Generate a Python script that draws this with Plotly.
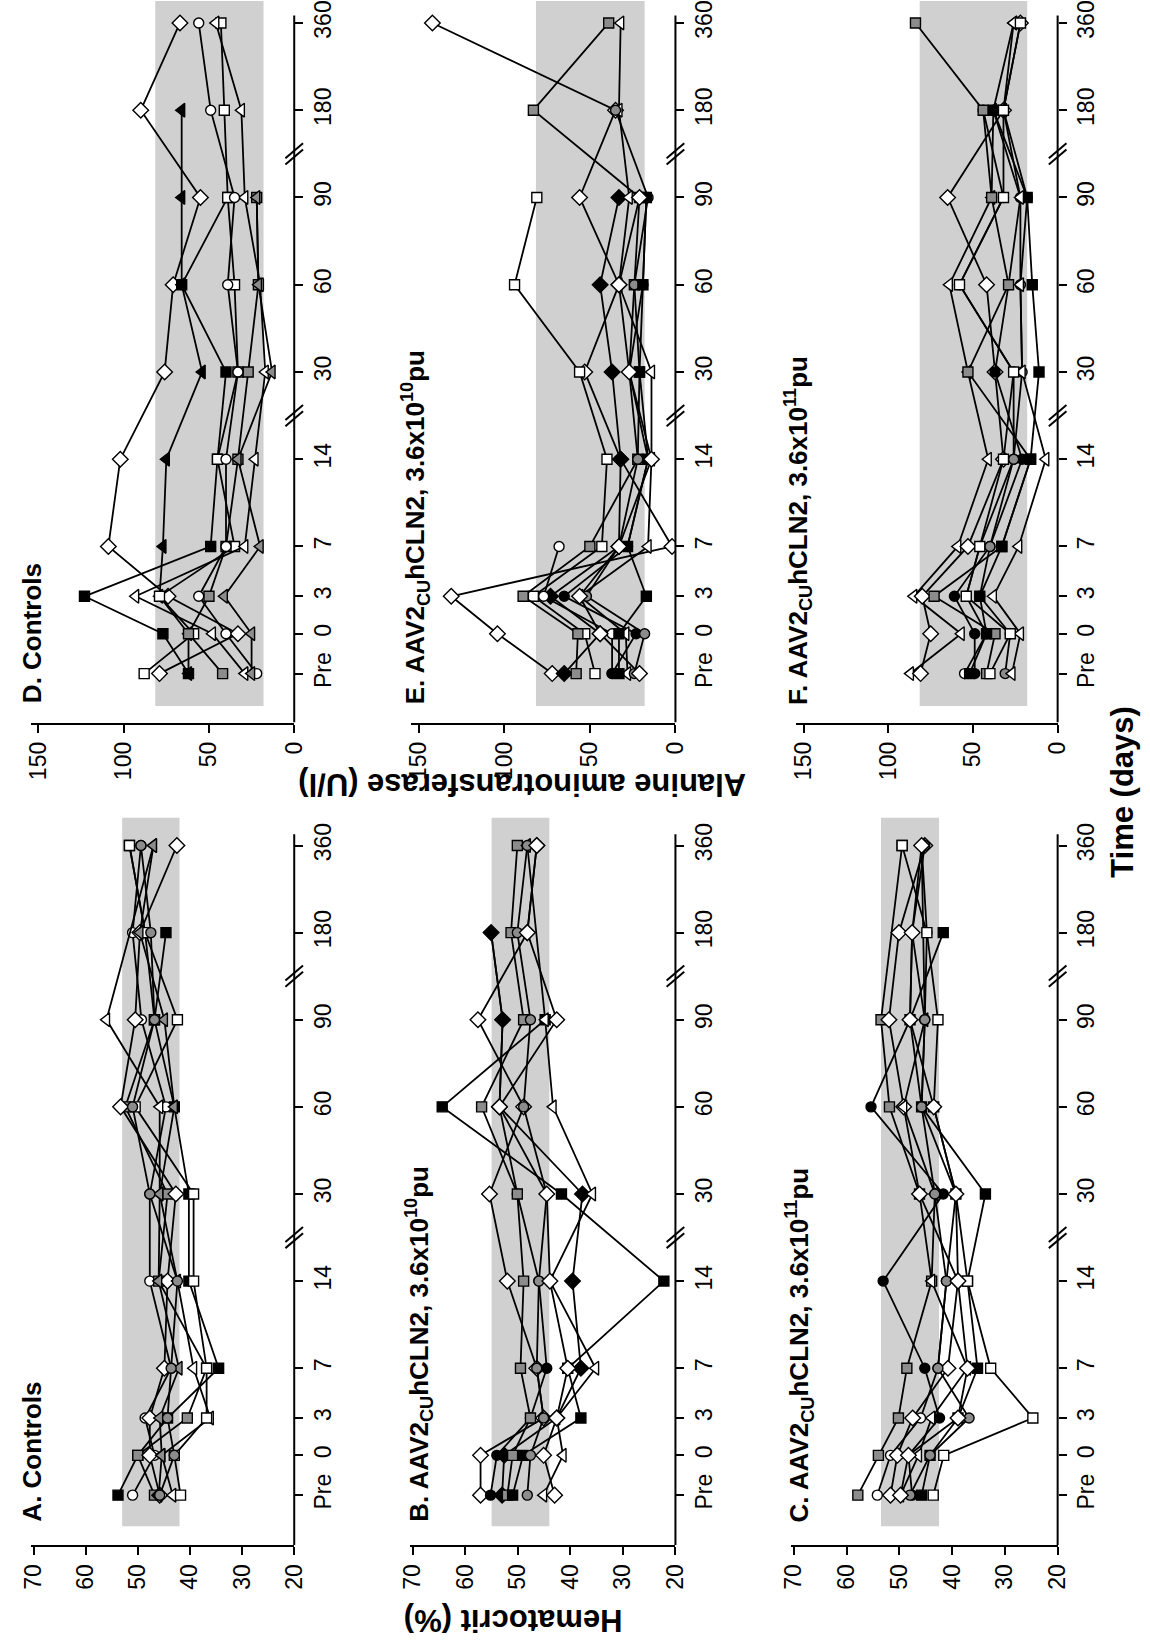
import plotly.graph_objects as go

# ---------------- data ----------------
time_labels = ["Pre", "0", "3", "7", "14", "30", "60", "90", "180", "360"]

# A. Controls - Hematocrit (%)
A_hct = [
    [53.8, 50.0, 44.3, 34.5, 40.2, 40.2, 43.0, 46.8, 44.6, None],
    [51.0, 46.8, 48.6, 43.6, 47.7, 47.7, 44.6, 49.3, 51.0, 49.4],
    [46.8, 50.0, 40.5, 36.8, 46.0, 44.3, 52.4, 46.8, 48.6, 51.6],
    [45.8, 47.7, 47.7, 44.9, 44.3, 42.7, 53.3, 50.5, 49.6, 42.5],
    [43.3, 45.4, 36.1, 39.3, 42.4, 45.8, 45.8, 56.0, None, 47.0],
    [41.8, 43.0, 36.8, 36.8, 39.3, 39.3, 50.5, 42.4, 48.6, 51.6],
    [46.0, 45.4, 45.8, 42.1, 46.0, 45.8, 43.0, 44.9, 49.6, 47.0],
    [45.8, 43.0, 44.3, 43.6, 42.4, 47.7, 51.0, 46.8, 47.5, 49.4],
]
A_sym = ["sq_k", "ci_w", "sq_g", "di_w", "tr_w", "sq_w", "tr_g", "ci_g"]

# B. AAV2cu hCLN2, 3.6x10^10 pu - Hematocrit (%)
B_hct = [
    [57.1, 57.1, 45.1, 46.4, 52.0, 55.4, 48.9, 57.6, 48.2, 46.4],
    [55.2, 54.0, 47.6, 44.5, 46.0, 50.1, 53.5, 52.9, 55.1, None],
    [53.0, 52.6, 42.6, 38.0, 39.6, 37.7, 53.5, 52.9, 55.1, None],
    [52.0, 51.0, 47.6, 49.5, 48.9, 50.1, 56.9, 48.9, 51.3, 50.1],
    [51.0, 49.0, 38.0, 40.5, 22.2, 41.7, 64.4, 44.8, None, None],
    [45.1, 41.4, 42.6, 35.2, 43.9, 35.8, 43.3, 44.8, None, 48.2],
    [48.2, 47.6, 45.1, 46.4, 46.0, 44.5, 48.9, 47.6, 50.1, 48.2],
    [43.0, 45.1, 42.6, 40.5, 43.9, 44.5, 53.5, 42.6, 48.2, 46.4],
]
B_sym = ["di_w", "ci_k", "di_k", "sq_g", "sq_k", "tr_w", "ci_g", "di_w"]

# C. AAV2cu hCLN2, 3.6x10^11 pu - Hematocrit (%)
C_hct = [
    [57.9, 54.0, 50.2, 48.6, 43.9, 46.2, 51.9, 53.5, None, 49.5],
    [54.2, 51.7, 46.0, 42.7, 41.1, 39.3, 45.8, 45.2, 44.8, 45.8],
    [51.7, 50.4, 47.5, 40.8, 38.9, 46.2, 49.2, 52.0, 50.1, 45.2],
    [47.6, 48.3, 42.4, 45.2, 53.1, 41.7, 55.4, 48.0, 47.6, None],
    [49.8, 46.4, 43.9, 37.1, 43.9, 43.3, 49.2, 45.2, None, 45.8],
    [45.8, 44.2, 38.9, 35.2, 37.1, 33.7, 45.8, 48.0, 41.7, None],
    [43.6, 41.6, 24.7, 32.7, 37.1, 39.3, 43.5, 42.7, 44.8, 49.5],
    [48.0, 44.2, 36.8, 42.7, 41.1, 43.3, 45.8, 45.2, 47.6, 45.2],
    [49.8, 48.3, 38.9, 37.1, 38.9, 39.3, 43.5, 48.0, 47.6, 45.8],
]
C_sym = ["sq_g", "ci_w", "di_w", "ci_k", "tr_w", "sq_k", "sq_w", "ci_g", "di_w"]

# D. Controls - Alanine aminotransferase (U/l)
D_alt = [
    [79, 33, 74, 109, 102, 76, 71, 55, 90, 67],
    [62, 62, 79, 77, 75, 54, 66, 66, 66, None],
    [62, 77, 123, 49, 45, 40, 66, 39, None, None],
    [88, 59, 79, 35, 45, 33, 35, 39, 41, 43],
    [42, 62, 50, 40, 33, 27, 21, 22, None, None],
    [29, 48, 93, 29, 23, 17, 20, 29, 31, 46],
    [22, 40, 56, 40, 40, 33, 39, 35, 49, 56],
    [25, 25, 41, 20, 33, 13, 21, 22, None, None],
]
D_sym = ["di_w", "tr_k", "sq_k", "sq_w", "sq_g", "tr_w", "ci_w", "tr_g"]

# E. AAV2cu hCLN2, 3.6x10^10 pu - Alanine aminotransferase (U/l)
E_alt = [
    [72, 104, 131, 2, 32, 53, 33, 56, 35, 142],
    [47, 53, 83, 43, 40, 56, 94, 81, None, None],
    [65, 44, 73, 33, 32, 37, 44, 33, None, None],
    [58, 57, 89, 50, 22, 21, 24, 21, 83, 39],
    [37, 37, 77, 68, None, None, None, None, None, None],
    [37, 23, 65, 28, 16, 27, 19, 17, None, None],
    [28, 29, 56, 16, 14, 14, 33, 27, 33, 32],
    [24, 18, 52, 33, 22, 27, 24, 16, 35, None],
    [33, 33, 17, 28, 16, 21, 19, 17, None, None],
    [21, 44, 56, 33, 14, 27, 33, 21, None, None],
]
E_sym = ["di_w", "sq_w", "di_k", "sq_g", "ci_w", "ci_k", "tr_w", "ci_g", "sq_k", "di_w"]

# F. AAV2cu hCLN2, 3.6x10^11 pu - Alanine aminotransferase (U/l)
F_alt = [
    [87, 57, 85, 59, 41, 53, 64, 39, 38, 26],
    [81, 75, 80, 53, 32, 37, 42, 65, 32, 22],
    [55, 42, 54, 46, 26, 26, 58, 32, 44, None],
    [49, 49, 61, 40, 21, 37, 29, 22, 38, None],
    [42, 37, 73, 33, 16, 53, 29, 39, 44, 84],
    [31, 28, 46, 40, 26, 21, 22, 18, 32, None],
    [52, 42, 46, 33, 16, 11, 15, 18, 38, None],
    [27, 22, 38, 23, 7, 21, 22, 22, 32, 26],
    [40, 28, 54, 46, 32, 26, 58, 32, 32, 22],
]
F_sym = ["tr_w", "di_w", "ci_w", "ci_k", "sq_g", "ci_g", "sq_k", "tr_w", "sq_w"]

hct_ticks = [70, 60, 50, 40, 30, 20]
alt_ticks = [150, 100, 50, 0]
hct_normal_A = (42, 53)
hct_normal_B = (44, 55)
hct_normal_C = (42.5, 53.5)
alt_normal = (18, 81.5)

# ---------------- layout helpers ----------------
W, H = 1150, 1642
# broken time axis: position of each time category on the axis
TIME_AXIS_POS = [-3.2, 0, 3, 7, 14, 21, 28, 35, 42, 49]
BREAK_POS = [17.5, 38.5]

def fx(p):
    return p / W

def fy(p):
    return 1 - p / H

STY = {
    "sq": ("square", 10), "ci": ("circle", 10), "di": ("diamond", 12), "tr": ("triangle-left", 12),
}
FILL = {"w": "white", "g": "#8c8c8c", "k": "black"}

FONT = "Liberation Sans Narrow, Arial Narrow, Liberation Sans, Arial, sans-serif"
BFONT = "Liberation Sans, Arial, sans-serif"

panels = [
    dict(vals=D_alt, sym=D_sym, xd=(20, 289), yd=(0, 722), yr=(-7.13, 50.76), xr=(154.6, 0),
         ticks=alt_ticks, band=alt_normal, bb=-5.8, axtop=49.6,
         title="<b>D. Controls</b>", tx=21, tyb=705),
    dict(vals=E_alt, sym=E_sym, xd=(408, 678), yd=(0, 722), yr=(-7.13, 50.76), xr=(154.6, 0),
         ticks=alt_ticks, band=alt_normal, bb=-5.8, axtop=49.6,
         title="<b>E. AAV2<sub>CU</sub>hCLN2, 3.6x10<sup>10</sup>pu</b>", tx=412, tyb=706),
    dict(vals=F_alt, sym=F_sym, xd=(801, 1068), yd=(0, 722), yr=(-7.13, 50.76), xr=(154.6, 0),
         ticks=alt_ticks, band=alt_normal, bb=-5.8, axtop=49.6,
         title="<b>F. AAV2<sub>CU</sub>hCLN2, 3.6x10<sup>11</sup>pu</b>", tx=803, tyb=706),
    dict(vals=A_hct, sym=A_sym, xd=(20, 289), yd=(817, 1545), yr=(-7.21, 51.25), xr=(70.56, 20),
         ticks=hct_ticks, band=hct_normal_A, bb=-5.7, axtop=49.9,
         title="<b>A. Controls</b>", tx=22, tyb=1524),
    dict(vals=B_hct, sym=B_sym, xd=(407, 678), yd=(817, 1545), yr=(-7.21, 51.25), xr=(70.56, 20),
         ticks=hct_ticks, band=hct_normal_B, bb=-5.7, axtop=49.9,
         title="<b>B. AAV2<sub>CU</sub>hCLN2, 3.6x10<sup>10</sup>pu</b>", tx=416, tyb=1524),
    dict(vals=C_hct, sym=C_sym, xd=(796, 1068), yd=(817, 1545), yr=(-7.21, 51.25), xr=(70.56, 20),
         ticks=hct_ticks, band=hct_normal_C, bb=-5.7, axtop=49.9,
         title="<b>C. AAV2<sub>CU</sub>hCLN2, 3.6x10<sup>11</sup>pu</b>", tx=804, tyb=1524),
]

fig = go.Figure()
shapes = []
annotations = []
layout = {}

for i, p in enumerate(panels, start=1):
    xa = "x" if i == 1 else f"x{i}"
    ya = "y" if i == 1 else f"y{i}"
    # normal range band
    shapes.append(dict(type="rect", xref=xa, yref=ya, x0=p["band"][0], x1=p["band"][1],
                       y0=p["bb"], y1=p["yr"][1], fillcolor="#d0d0d0", line=dict(width=0),
                       layer="below"))
    for vals, s in zip(p["vals"], p["sym"]):
        sym, size = STY[s[:2]]
        fig.add_trace(go.Scatter(
            x=vals, y=TIME_AXIS_POS, xaxis=xa, yaxis=ya, mode="lines+markers",
            connectgaps=True, showlegend=False, hoverinfo="skip",
            line=dict(color="black", width=1.8),
            marker=dict(symbol=sym, size=size, color=FILL[s[3]],
                        line=dict(color="black", width=1.4)),
        ))
    xr_px = p["xd"][1]
    # time axis line (right side)
    shapes.append(dict(type="line", xref="paper", yref=ya, x0=fx(xr_px), x1=fx(xr_px),
                       y0=p["yr"][0], y1=p["axtop"], line=dict(color="black", width=2)))
    # axis break marks
    for bp in BREAK_POS:
        for off in (-0.25, 0.25):
            shapes.append(dict(type="line", xref="paper", yref=ya,
                               x0=fx(xr_px - 9), x1=fx(xr_px + 9),
                               y0=bp + off - 0.6, y1=bp + off + 0.6,
                               line=dict(color="black", width=2)))
    layout[f"xaxis{i if i > 1 else ''}"] = dict(
        domain=[fx(p["xd"][0]), fx(p["xd"][1])], range=list(p["xr"]), anchor=ya,
        showgrid=False, zeroline=False, showline=True, linecolor="black", linewidth=2,
        ticks="outside", ticklen=8, tickwidth=2, tickcolor="black",
        tickvals=p["ticks"], ticktext=[str(t) for t in p["ticks"]], tickangle=-90,
        ticklabeloverflow="allow",
        tickfont=dict(family=FONT, size=23, color="black"), fixedrange=True,
    )
    layout[f"yaxis{i if i > 1 else ''}"] = dict(
        domain=[fy(p["yd"][1]), fy(p["yd"][0])], range=list(p["yr"]), anchor=xa, side="right",
        showgrid=False, zeroline=False, showline=False,
        ticks="outside", ticklen=8, tickwidth=2, tickcolor="black",
        tickvals=TIME_AXIS_POS, ticktext=time_labels, tickangle=-90,
        ticklabeloverflow="allow",
        tickfont=dict(family=FONT, size=23, color="black"), fixedrange=True,
    )
    annotations.append(dict(text=p["title"], xref="paper", yref="paper",
                            x=fx(p["tx"]), y=fy(p["tyb"]), xanchor="center", yanchor="bottom",
                            textangle=-90, showarrow=False,
                            font=dict(family=BFONT, size=26, color="black")))

annotations += [
    dict(text="<b>Alanine aminotransferase (U/l)</b>", xref="paper", yref="paper",
         x=fx(522), y=fy(784), xanchor="center", yanchor="middle", textangle=180,
         showarrow=False, font=dict(family=BFONT, size=31, color="black")),
    dict(text="<b>Hematocrit (%)</b>", xref="paper", yref="paper",
         x=fx(512), y=fy(1621), xanchor="center", yanchor="middle", textangle=180,
         showarrow=False, font=dict(family=BFONT, size=31, color="black")),
    dict(text="<b>Time (days)</b>", xref="paper", yref="paper",
         x=fx(1134), y=fy(791), xanchor="center", yanchor="middle", textangle=-90,
         showarrow=False, font=dict(family=BFONT, size=31, color="black")),
]

fig.update_layout(
    width=W, height=H, margin=dict(l=0, r=0, t=0, b=0),
    paper_bgcolor="white", plot_bgcolor="white",
    shapes=shapes, annotations=annotations, **layout,
)

fig.write_html("out.html")
